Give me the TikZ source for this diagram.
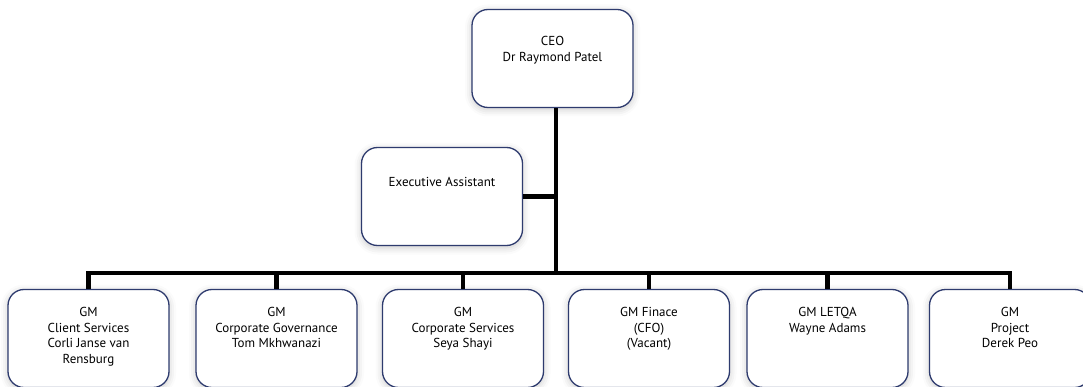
\documentclass[tikz,border=0pt]{standalone}
\usepackage{fontspec}
\setmainfont{PT Sans}
\usetikzlibrary{calc, shadows.blur}
\definecolor{boxline}{HTML}{2E3B6E}
\tikzstyle{post} = [rectangle, rounded corners=16pt, draw=boxline, line width=1.3pt, fill=white, minimum width=161pt, minimum height=98pt, blur shadow={shadow xshift=0pt, shadow yshift=-2pt, shadow blur radius=7pt, shadow opacity=22}]
\tikzstyle{txt} = [anchor=north, align=center, inner sep=0pt, font=\fontsize{13}{15.7}\selectfont]
\tikzstyle{bar} = [line width=4.5pt, line join=miter]

\begin{document}
\begin{tikzpicture}[x=1pt, y=-1pt]
		\useasboundingbox (0,0) rectangle (1083,387);
		\node (CEO) [post, label={[txt, yshift=-27pt]north:CEO\\Dr Raymond Patel}] at (552.5,58.5) {};
		\node (Assistant) [post, label={[txt, yshift=-30pt]north:Executive Assistant}] at (442,196.5) {};
		
		\node (ClientServices) [post, label={[txt, yshift=-18pt]north:GM\\Client Services\\Corli Janse van\\Rensburg}] at (88.5,338.5) {};
		\node (Governance) [post, label={[txt, yshift=-18pt]north:GM\\Corporate Governance\\Tom Mkhwanazi}] at (276.5,338.5) {};
		\node (CorpServices) [post, label={[txt, yshift=-18pt]north:GM\\Corporate Services\\Seya Shayi}] at (463,338.5) {};
		\node (Finance) [post, label={[txt, yshift=-18pt]north:GM Finace\\(CFO)\\(Vacant)}] at (649,338.5) {};
		\node (LETQA) [post, label={[txt, yshift=-18pt]north:GM LETQA\\Wayne Adams}] at (827.5,338.5) {};
		\node (Project) [post, label={[txt, yshift=-18pt]north:GM\\Project\\Derek Peo}] at (1010,338.5) {};
		
		\coordinate (Hub) at (556,273);
		
		\draw [bar] ([xshift=3.5pt]CEO.south) -- (Hub);
		\draw [bar] (Assistant.east) -- (Assistant.east -| Hub);
		\draw [bar] (ClientServices.north) -- (ClientServices.north |- Hub) -- (Project.north |- Hub) -- (Project.north);
		\foreach \gm in {Governance, CorpServices, Finance, LETQA}
			\draw [bar] (\gm.north) -- (\gm.north |- Hub);
\end{tikzpicture}
\end{document}
